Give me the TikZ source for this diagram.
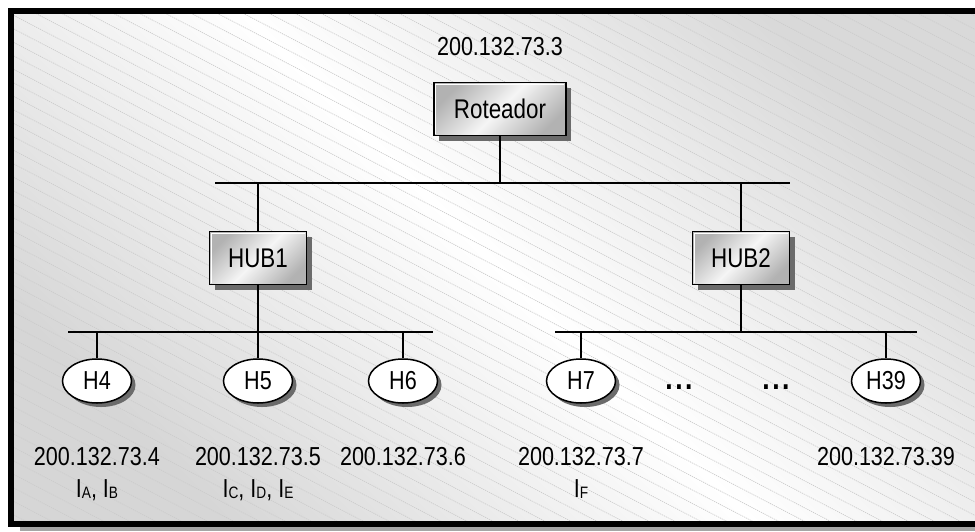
\documentclass[tikz,border=0pt]{standalone}
\usepackage{fontspec}
\setmainfont[FakeStretch=0.83]{Liberation Sans}
\usetikzlibrary{shadows,shapes.geometric}

% small capital subscript used in the interface labels
\newcommand\isub[1]{\raisebox{-1.8pt}{\fontsize{16.5}{17}\selectfont #1}}

\tikzset{
  lbl/.style={font=\fontsize{26}{30}\selectfont, inner sep=0pt},
  devbox/.style={rectangle, draw=black, line width=1.8pt, inner sep=0pt,
    minimum height=53pt,
    top color=gray!60, bottom color=gray!60, middle color=gray!8,
    shading angle=45,
    drop shadow={shadow xshift=5pt, shadow yshift=-5pt, fill=black!58, opacity=1},
    font=\fontsize{27}{30}\selectfont},
  host/.style={ellipse, draw=black, line width=1.5pt, fill=white, inner sep=0pt,
    minimum width=69pt, minimum height=44pt,
    drop shadow={shadow xshift=4pt, shadow yshift=-4pt, fill=black!58, opacity=1},
    font=\fontsize{26}{30}\selectfont},
  wire/.style={line width=1.6pt, black},
  hatch/.style={gray!40, line width=0.7pt, dash pattern=on 1.2pt off 0.9pt},
  highlight/.style={white, line width=1.2pt},
  dots/.style={inner sep=0pt, font=\bfseries\fontsize{32}{32}\selectfont},
}

\begin{document}
\begin{tikzpicture}[x=1pt,y=-1pt]
\useasboundingbox (0,0) rectangle (975,531);

% panel background: diagonal grey-white-grey gradient
\shade[top color=gray!30, bottom color=gray!32, middle color=white, shading angle=-45]
  (11,11) rectangle (985,524);

% diagonal hatching
\begin{scope}
  \clip (14,14) rectangle (975,521);
  \foreach \k in {0,...,82} {
    \draw[hatch] (10,{-540+13.5*\k}) -- ++(990,515);
  }
\end{scope}

% panel shadow and frame
\fill[gray!70] (20,527) rectangle (975,531);
\draw[line width=6pt] (985,11) -- (11,11) -- (11,524) -- (985,524);

% router and hubs
\node[lbl, anchor=base] (ip3) at (500,55) {200.132.73.3};
\node[devbox, minimum width=132pt] (rot) at (500,109) {Roteador};
\node[devbox, minimum width=97pt] (hub1) at (258,258) {HUB1};
\node[devbox, minimum width=97pt] (hub2) at (741,258) {HUB2};

\foreach \b in {rot,hub1,hub2} {
  \draw[highlight] ([shift={(2.6pt,2.6pt)}]\b.south west) |- ([shift={(-2.6pt,-2.6pt)}]\b.north east);
}

% hosts
\node[host] (h4) at (97,381) {H4};
\node[host] (h5) at (258,381) {H5};
\node[host] (h6) at (403,381) {H6};
\node[host] (h7) at (581,381) {H7};
\node[host] (h39) at (886,381) {H39};

\node[dots] (dotsA) at (679,387) {.\hspace{2.5pt}.\hspace{2.5pt}.};
\node[dots] (dotsB) at (776,387) {.\hspace{2.5pt}.\hspace{2.5pt}.};

% bus ends
\coordinate (topL) at (215,183);
\coordinate (topR) at (790,183);
\coordinate (lanL) at (68,332);
\coordinate (lanLR) at (433,332);
\coordinate (lanR) at (555,332);
\coordinate (lanRR) at (917,332);

% buses
\draw[wire] (topL) -- (topR);
\draw[wire] (lanL) -- (lanLR);
\draw[wire] (lanR) -- (lanRR);

% drops
\draw[wire] (rot.south) -- (rot.south |- topL);
\draw[wire] (hub1.north) -- (hub1.north |- topL);
\draw[wire] (hub2.north) -- (hub2.north |- topL);
\draw[wire] (hub1.south) -- (hub1.south |- lanL);
\draw[wire] (hub2.south) -- (hub2.south |- lanR);
\foreach \h in {h4,h5,h6} {
  \draw[wire] (\h.north) -- (\h.north |- lanL);
}
\foreach \h in {h7,h39} {
  \draw[wire] (\h.north) -- (\h.north |- lanR);
}

% addresses and interfaces
\node[lbl, anchor=base] (ip4) at (97,465) {200.132.73.4};
\node[lbl, anchor=base] (if4) at (97,497) {I\isub{A}, I\isub{B}};
\node[lbl, anchor=base] (ip5) at (258,465) {200.132.73.5};
\node[lbl, anchor=base] (if5) at (258,497) {I\isub{C}, I\isub{D}, I\isub{E}};
\node[lbl, anchor=base] (ip6) at (403,465) {200.132.73.6};
\node[lbl, anchor=base] (ip7) at (581,465) {200.132.73.7};
\node[lbl, anchor=base] (if7) at (581,497) {I\isub{F}};
\node[lbl, anchor=base] (ip39) at (886,465) {200.132.73.39};
\end{tikzpicture}
\end{document}
